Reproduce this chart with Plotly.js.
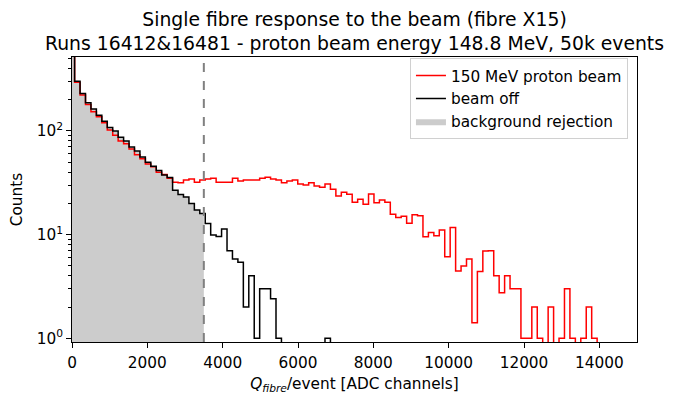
<!DOCTYPE html>
<html>
<head>
<meta charset="utf-8">
<script src="https://cdn.plot.ly/plotly-3.0.1.min.js"></script>
<style>
  body { margin: 0; background: white; }
  #hist { width: 679px; height: 403px; }
</style>
</head>
<body>
<div id="hist"></div>
<script>
// histogram binning (ADC channels)
var binStart = -75;
var binWidth = 144.5;
var cutValue = 3500;

// counts per bin (bin 0 is clipped at the top)
var beamCounts = [
    1400, 294, 222, 180, 153, 137, 120, 102, 91, 80,
    75, 67, 59, 54, 48, 45, 40, 38, 35, 32,
    31.6, 33.6, 34.4, 31.9, 33.6, 34.4, 35, 31.9, 31.9, 31.9,
    35, 32.9, 33.6, 33.6, 33.6, 35, 35.7, 34.4, 33.6, 31.6,
    32.9, 33.6, 30.8, 30.1, 31.7, 29.4, 28.6, 30.8, 27.3, 23.6,
    25.6, 24.5, 20.5, 21.9, 19.6, 24.6, 20.3, 21.6, 20.5, 15.7,
    14.6, 15.0, 12.9, 15.5, 15.2, 9.55, 10.5, 9.75, 11.1, 6.1,
    11.7, 4.46, 4.98, 5.8, 1.41, 4.4, 6.95, 7.0, 4.0, 2.75,
    4.0, 3.0, 3.0, 1, 1, 2, 1, 0, 2, 0,
    1, 3, 1, 0, 1, 2, 1, 0, 0, 0
];
var offCounts = [
    1500, 302, 230, 187, 163, 142, 124, 108, 100, 87,
    80, 70, 64, 56, 50, 45.5, 41.5, 37.5, 35.5, 26.8,
    24.3, 23, 20, 17.3, 16, 12.8, 9.9, 9.6, 11.3, 7.0,
    5.8, 5.4, 2, 4, 1, 3, 3, 2.4, 1, 0,
    0, 0, 0, 0, 0, 0, 0, 1, 0, 0,
    0, 0, 0, 0, 0, 0, 0, 0, 0, 0,
    0, 0, 0, 0, 0, 0, 0, 0, 0, 0,
    0, 0, 0, 0, 0, 0, 0, 0, 0, 0,
    0, 0, 0, 0, 0, 0, 0, 0, 0, 0,
    0, 0, 0, 0, 0, 0, 0, 0, 0, 0
];

var floorVal = 0.01; // empty bins drop below the log axis, like matplotlib

// outline of a step histogram, drawn with line.shape 'hv'
function stepXY(counts, xmax) {
    var xs = [binStart], ys = [floorVal];
    for (var i = 0; i < counts.length; i++) {
        var left = binStart + i * binWidth;
        if (xmax !== undefined && left >= xmax) break;
        xs.push(left);
        ys.push(counts[i] > 0 ? counts[i] : floorVal);
    }
    var end = binStart + counts.length * binWidth;
    xs.push(xmax !== undefined ? Math.min(xmax, end) : end);
    ys.push(floorVal);
    return {x: xs, y: ys};
}

var beam = stepXY(beamCounts);
var off = stepXY(offCounts);
var rej = stepXY(offCounts, cutValue);

var data = [{
    x: rej.x, y: rej.y,
    type: 'scatter', mode: 'lines',
    line: {shape: 'hv', width: 0, color: '#cccccc'},
    fill: 'toself', fillcolor: '#cccccc',
    name: 'background rejection',
    legendrank: 3, legendgroup: 'c',
    hoverinfo: 'skip'
}, {
    x: beam.x, y: beam.y,
    type: 'scatter', mode: 'lines',
    line: {shape: 'hv', width: 1.5, color: '#ff0000'},
    name: '150 MeV proton beam',
    legendrank: 1, legendgroup: 'a'
}, {
    x: off.x, y: off.y,
    type: 'scatter', mode: 'lines',
    line: {shape: 'hv', width: 1.5, color: '#000000'},
    name: 'beam off',
    legendrank: 2, legendgroup: 'b'
}];

var minorVals = [];
[1, 10, 100].forEach(function (d) {
    for (var m = 2; m <= 9; m++) minorVals.push(m * d);
});

var layout = {
    width: 679,
    height: 403,
    margin: {l: 72, r: 42, t: 57, b: 61},
    paper_bgcolor: 'white',
    plot_bgcolor: 'white',
    font: {family: 'DejaVu Sans', size: 15.3, color: 'black'},
    title: {
        text: 'Single fibre response to the beam (fibre X15)<br>Runs 16412&16481 - proton beam energy 148.8 MeV, 50k events',
        font: {size: 18.8},
        x: 0.5, xref: 'paper', xanchor: 'center',
        y: 1, yref: 'paper', yanchor: 'bottom',
        pad: {b: 31}
    },
    showlegend: true,
    legend: {
        x: 0.984, xanchor: 'right',
        y: 0.996, yanchor: 'top',
        bgcolor: 'rgba(255,255,255,0.8)',
        bordercolor: '#d0d0d0', borderwidth: 1,
        font: {size: 15.3},
        traceorder: 'grouped',
        tracegroupgap: 0,
        itemwidth: 30
    },
    xaxis: {
        range: [0, 15000],
        tick0: 0, dtick: 2000,
        tickformat: 'd',
        showgrid: false, zeroline: false,
        showline: true, mirror: true, linecolor: 'black', linewidth: 1,
        ticks: 'outside', ticklen: 5, tickcolor: 'black',
        ticklabelstandoff: 2,
        title: {text: '<i>Q</i><sub><i>fibre</i></sub>/event [ADC channels]', font: {size: 15.3}, standoff: 6}
    },
    yaxis: {
        type: 'log',
        range: [-0.036, 2.713],
        tickvals: [1, 10, 100],
        ticktext: ['10<sup>0</sup>', '10<sup>1</sup>', '10<sup>2</sup>'],
        showgrid: false, zeroline: false,
        showline: true, mirror: true, linecolor: 'black', linewidth: 1,
        ticks: 'outside', ticklen: 5, tickcolor: 'black',
        minor: {tickvals: minorVals, ticks: 'outside', ticklen: 3, tickcolor: 'black', showgrid: false},
        title: {text: 'Counts', font: {size: 15.3}, standoff: 10}
    },
    shapes: [{
        type: 'line', xref: 'x', yref: 'paper',
        x0: cutValue, x1: cutValue, y0: 0, y1: 1,
        line: {color: 'gray', width: 2, dash: 'dash'}
    }]
};

Plotly.newPlot('hist', data, layout, {displayModeBar: false});
</script>
</body>
</html>
